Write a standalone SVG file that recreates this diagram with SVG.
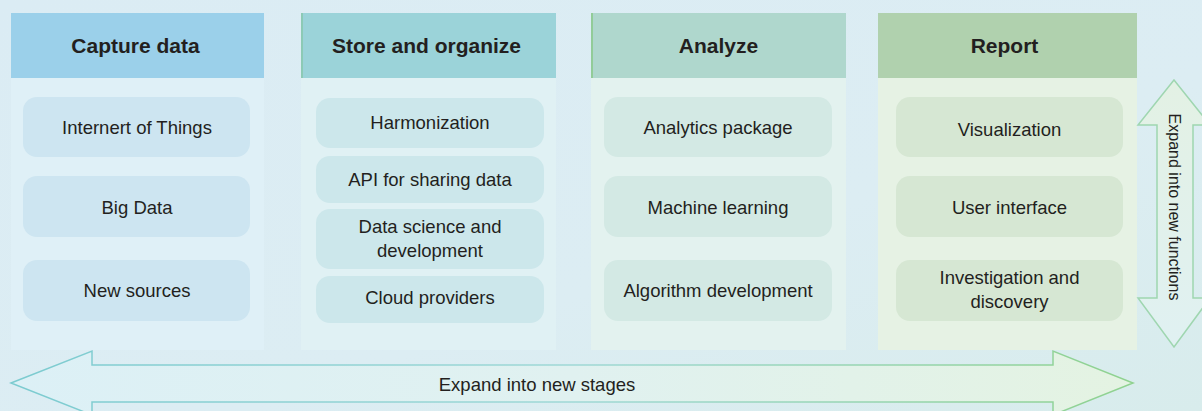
<svg xmlns="http://www.w3.org/2000/svg" width="1202" height="411" viewBox="0 0 1202 411">
<defs>
<linearGradient id="bg" x1="0" y1="0" x2="1" y2="1">
<stop offset="0" stop-color="#dbecf4"/>
<stop offset="0.6" stop-color="#dcedf3"/>
<stop offset="1" stop-color="#d8ecec"/>
</linearGradient>
<linearGradient id="hfill" x1="0" y1="0" x2="1" y2="0">
<stop offset="0" stop-color="#dcf0f6"/>
<stop offset="0.5" stop-color="#e0f1f0"/>
<stop offset="1" stop-color="#e4f3e2"/>
</linearGradient>
<linearGradient id="hstroke" x1="0" y1="0" x2="1" y2="0">
<stop offset="0" stop-color="#7ccbd0"/>
<stop offset="0.5" stop-color="#9fd8d6"/>
<stop offset="1" stop-color="#8fd28f"/>
</linearGradient>
<linearGradient id="vfill" x1="0" y1="0" x2="0" y2="1">
<stop offset="0" stop-color="#e3f1e4"/>
<stop offset="1" stop-color="#e0f1f2"/>
</linearGradient>
</defs>
<style>
.hd{font-family:"Liberation Sans",Arial,sans-serif;font-weight:bold;font-size:21px;fill:#231f20;text-anchor:middle}
.tx{font-family:"Liberation Sans",Arial,sans-serif;font-size:18.5px;fill:#231f20;text-anchor:middle}
.item{stroke:none}
</style>
<rect x="0" y="0" width="1202" height="411" fill="url(#bg)"/>

<g id="col-capture">
<rect x="11" y="78" width="253" height="272" fill="#dff0f7"/>
<rect x="11" y="13" width="253" height="65" fill="#9bd0ea"/>
<text class="hd" x="135.5" y="53">Capture data</text>
</g>
<g id="n-iot"><rect class="item" x="23" y="97" width="227" height="60" rx="14" fill="#cde5f1"/><text class="tx" x="137" y="134">Internert of Things</text></g>
<g id="n-bigdata"><rect class="item" x="23" y="176" width="227" height="61" rx="14" fill="#cde5f1"/><text class="tx" x="137" y="214">Big Data</text></g>
<g id="n-newsources"><rect class="item" x="23" y="260" width="227" height="61" rx="14" fill="#cde5f1"/><text class="tx" x="137" y="297">New sources</text></g>

<g id="col-store">
<rect x="301" y="78" width="255" height="272" fill="#e0f1f4"/>
<rect x="301" y="13" width="255" height="65" fill="#9bd3d9"/>
<rect x="301" y="13" width="2" height="65" fill="#8ccab5"/>
<text class="hd" x="426.5" y="53">Store and organize</text>
</g>
<g id="n-harm"><rect class="item" x="316" y="98" width="228" height="50" rx="14" fill="#cce7eb"/><text class="tx" x="430" y="129">Harmonization</text></g>
<g id="n-api"><rect class="item" x="316" y="156" width="228" height="47" rx="14" fill="#cce7eb"/><text class="tx" x="430" y="186">API for sharing data</text></g>
<g id="n-datasci"><rect class="item" x="316" y="209" width="228" height="60" rx="14" fill="#cce7eb"/><text class="tx" x="430" y="233">Data science and</text><text class="tx" x="430" y="257">development</text></g>
<g id="n-cloud"><rect class="item" x="316" y="276" width="228" height="47" rx="14" fill="#cce7eb"/><text class="tx" x="430" y="304">Cloud providers</text></g>

<g id="col-analyze">
<rect x="591" y="78" width="255" height="272" fill="#e3f2ef"/>
<rect x="591" y="13" width="255" height="65" fill="#afd7cd"/>
<rect x="591" y="13" width="2" height="65" fill="#92cc98"/>
<text class="hd" x="718.5" y="53">Analyze</text>
</g>
<g id="n-analytics"><rect class="item" x="604" y="97" width="228" height="60" rx="14" fill="#d3e9e4"/><text class="tx" x="718" y="134">Analytics package</text></g>
<g id="n-ml"><rect class="item" x="604" y="176" width="228" height="61" rx="14" fill="#d3e9e4"/><text class="tx" x="718" y="214">Machine learning</text></g>
<g id="n-algo"><rect class="item" x="604" y="260" width="228" height="61" rx="14" fill="#d3e9e4"/><text class="tx" x="718" y="297">Algorithm development</text></g>

<g id="col-report">
<rect x="878" y="78" width="259" height="272" fill="#e6f2e4"/>
<rect x="878" y="13" width="259" height="65" fill="#b0d1ae"/>
<text class="hd" x="1004.5" y="53">Report</text>
</g>
<g id="n-vis"><rect class="item" x="896" y="97" width="227" height="60" rx="14" fill="#d6e7d3"/><text class="tx" x="1009.5" y="136">Visualization</text></g>
<g id="n-ui"><rect class="item" x="896" y="176" width="227" height="61" rx="14" fill="#d6e7d3"/><text class="tx" x="1009.5" y="214">User interface</text></g>
<g id="n-invest"><rect class="item" x="896" y="260" width="227" height="61" rx="14" fill="#d6e7d3"/><text class="tx" x="1009.5" y="284">Investigation and</text><text class="tx" x="1009.5" y="308">discovery</text></g>

<g id="connectors">
<path d="M11,383 L92,351 L92,365 L1053,365 L1053,351 L1133,383 L1053,415 L1053,402 L92,402 L92,415 Z" fill="url(#hfill)" stroke="url(#hstroke)" stroke-width="1.5"/>
<text class="tx" x="537" y="391">Expand into new stages</text>
<path d="M1174,80 L1210,125 L1193,125 L1193,298 L1210,298 L1174,347 L1138,298 L1157,298 L1157,125 L1138,125 Z" fill="url(#vfill)" stroke="#9fd6b0" stroke-width="1.5"/>
<text class="tx" transform="translate(1169,207) rotate(90)" x="0" y="0" style="font-size:16px">Expand into new functions</text>
</g>
</svg>
